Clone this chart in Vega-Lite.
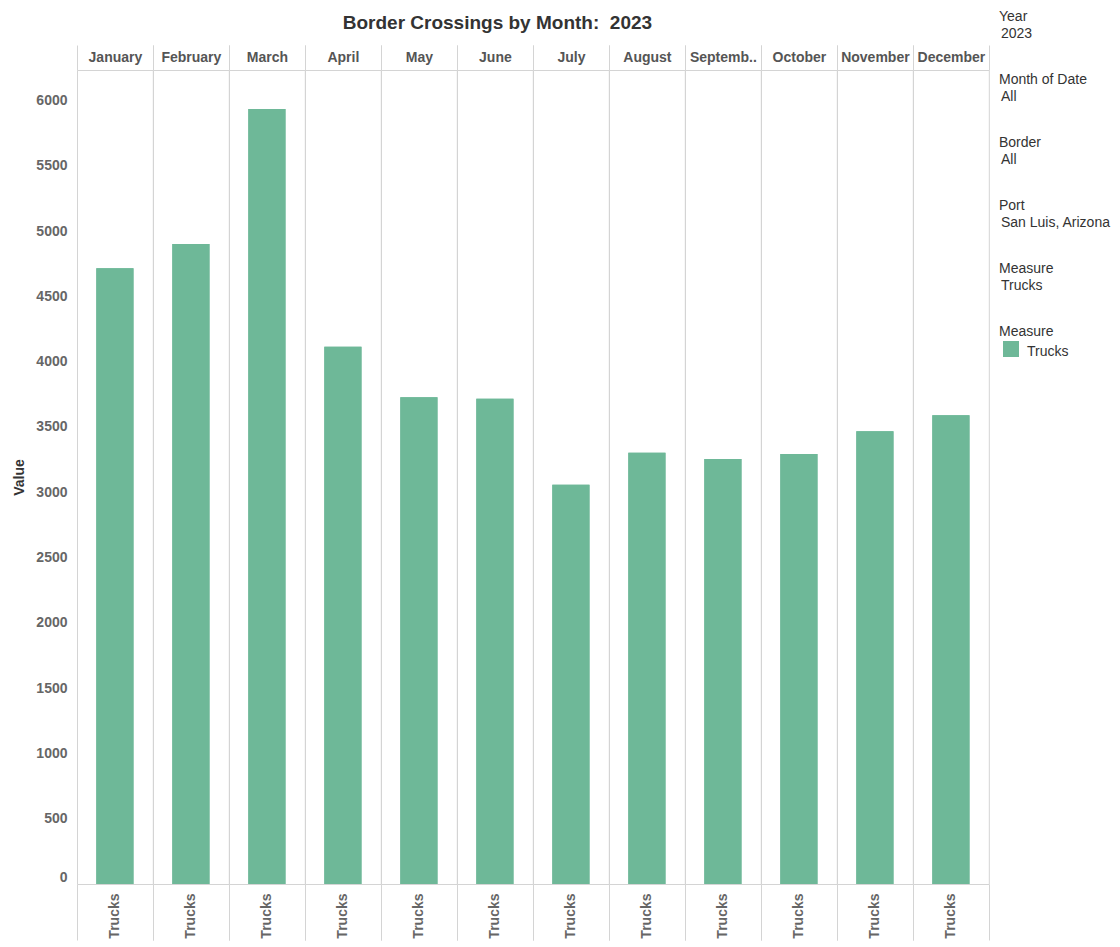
{
  "$schema": "https://vega.github.io/schema/vega-lite/v6.json",
  "padding": {"left": 12, "top": 10, "right": 0, "bottom": 0},
  "background": "white",
  "config": {
    "font": "Liberation Sans",
    "view": {"stroke": "#d4d4d4", "strokeWidth": 1},
    "concat": {"spacing": 9}
  },
  "datasets": {
    "crossings": [
      {"month": "January", "measure": "Trucks", "value": 4714},
      {"month": "February", "measure": "Trucks", "value": 4900},
      {"month": "March", "measure": "Trucks", "value": 5934},
      {"month": "April", "measure": "Trucks", "value": 4114},
      {"month": "May", "measure": "Trucks", "value": 3727},
      {"month": "June", "measure": "Trucks", "value": 3716},
      {"month": "July", "measure": "Trucks", "value": 3057},
      {"month": "August", "measure": "Trucks", "value": 3302},
      {"month": "September", "measure": "Trucks", "value": 3254},
      {"month": "October", "measure": "Trucks", "value": 3292},
      {"month": "November", "measure": "Trucks", "value": 3466},
      {"month": "December", "measure": "Trucks", "value": 3589}
    ],
    "filters": [
      {"card": 0, "line": 0, "label": "Year", "kind": "head"},
      {"card": 0, "line": 1, "label": "2023", "kind": "value"},
      {"card": 1, "line": 0, "label": "Month of Date", "kind": "head"},
      {"card": 1, "line": 1, "label": "All", "kind": "value"},
      {"card": 2, "line": 0, "label": "Border", "kind": "head"},
      {"card": 2, "line": 1, "label": "All", "kind": "value"},
      {"card": 3, "line": 0, "label": "Port", "kind": "head"},
      {"card": 3, "line": 1, "label": "San Luis, Arizona", "kind": "value"},
      {"card": 4, "line": 0, "label": "Measure", "kind": "head"},
      {"card": 4, "line": 1, "label": "Trucks", "kind": "value"},
      {"card": 5, "line": 0, "label": "Measure", "kind": "head"},
      {"card": 5, "line": 1, "label": "Trucks", "kind": "legend"}
    ]
  },
  "hconcat": [
    {
      "data": {"name": "crossings"},
      "title": {"text": "Border Crossings by Month:\u00a0 2023", "fontSize": 19, "fontWeight": "bold", "color": "#333", "offset": 11, "anchor": "middle", "frame": "bounds", "dx": -4},
      "facet": {
        "column": {
          "field": "month", "type": "ordinal",
          "sort": ["January", "February", "March", "April", "May", "June", "July", "August", "September", "October", "November", "December"],
          "header": {"labels": false, "title": null, "labelPadding": 0, "titlePadding": 0}
        }
      },
      "spacing": 0,
      "bounds": "flush",
      "resolve": {"scale": {"x": "independent"}},
      "spec": {
        "width": 75.8,
        "height": 814,
        "layer": [
          {
            "mark": {"type": "bar", "width": {"band": 0.49}, "color": "#6eb898"},
            "encoding": {
              "x": {
                "field": "measure", "type": "nominal",
                "scale": {"paddingInner": 0, "paddingOuter": 0},
                "axis": {
                  "orient": "bottom", "title": null, "labelAngle": -90, "labelAlign": "right", "labelBaseline": "middle",
                  "labelFontSize": 14, "labelFontWeight": "bold", "labelColor": "#666", "labelPadding": -47,
                  "tickBand": "extent", "tickSize": 56, "tickColor": "#d4d4d4", "domain": false
                }
              },
              "y": {
                "field": "value", "type": "quantitative",
                "scale": {"domain": [0, 6233], "nice": false, "zero": true},
                "axis": {
                  "title": "Value", "titleFontSize": 14, "titleFontWeight": "bold", "titleColor": "#333", "titlePadding": 9,
                  "labelFontSize": 14, "labelFontWeight": "bold", "labelColor": "#666", "labelPadding": 10,
                  "ticks": false, "domain": false, "grid": false, "labelFlush": true, "format": "d",
                  "values": [0, 500, 1000, 1500, 2000, 2500, 3000, 3500, 4000, 4500, 5000, 5500, 6000]
                }
              }
            }
          },
          {
            "mark": {"type": "bar", "width": {"band": 0.49}, "color": "#6eb898"},
            "encoding": {
              "x": {
                "field": "month", "type": "nominal",
                "scale": {"paddingInner": 0, "paddingOuter": 0},
                "axis": {
                  "orient": "top", "title": null, "labelAngle": 0, "labelAlign": "center", "labelBaseline": "bottom",
                  "labelFontSize": 14, "labelFontWeight": "bold", "labelColor": "#555", "labelPadding": -19,
                  "tickBand": "extent", "tickSize": 25, "tickColor": "#d4d4d4", "domain": false,
                  "labelExpr": "datum.value == 'September' ? 'Septemb..' : datum.value"
                }
              },
              "y": {
                "field": "value", "type": "quantitative",
                "scale": {"domain": [0, 6233], "nice": false, "zero": true},
                "axis": {
                  "title": "Value", "titleFontSize": 14, "titleFontWeight": "bold", "titleColor": "#333", "titlePadding": 9,
                  "labelFontSize": 14, "labelFontWeight": "bold", "labelColor": "#666", "labelPadding": 10,
                  "ticks": false, "domain": false, "grid": false, "labelFlush": true, "format": "d",
                  "values": [0, 500, 1000, 1500, 2000, 2500, 3000, 3500, 4000, 4500, 5000, 5500, 6000]
                }
              }
            }
          }
        ],
        "resolve": {"scale": {"x": "independent"}}
      }
    },
    {
      "data": {"name": "filters"},
      "width": 120,
      "height": 378,
      "view": {"stroke": null},
      "encoding": {
        "y": {"field": "card", "type": "ordinal", "axis": null, "scale": {"paddingInner": 0, "paddingOuter": 0, "range": [-61.5, 316.5]}},
        "yOffset": {"field": "line", "type": "ordinal", "scale": {"range": [0, 34]}}
      },
      "layer": [
        {
          "transform": [{"filter": "datum.kind == 'head'"}],
          "mark": {"type": "text", "align": "left", "baseline": "middle", "fontSize": 14, "color": "#333", "x": 0},
          "encoding": {"text": {"field": "label"}}
        },
        {
          "transform": [{"filter": "datum.kind == 'value'"}],
          "mark": {"type": "text", "align": "left", "baseline": "middle", "fontSize": 14, "color": "#333", "x": 0, "dx": 2},
          "encoding": {"text": {"field": "label"}}
        },
        {
          "transform": [{"filter": "datum.kind == 'legend'"}],
          "mark": {"type": "point", "shape": "square", "filled": true, "size": 256, "color": "#6eb898", "opacity": 1, "x": 0, "xOffset": 12, "yOffset": 3},
          "encoding": {}
        },
        {
          "transform": [{"filter": "datum.kind == 'legend'"}],
          "mark": {"type": "text", "align": "left", "baseline": "middle", "fontSize": 14, "color": "#333", "x": 0, "dx": 28, "dy": 3},
          "encoding": {"text": {"field": "label"}}
        }
      ]
    }
  ]
}
